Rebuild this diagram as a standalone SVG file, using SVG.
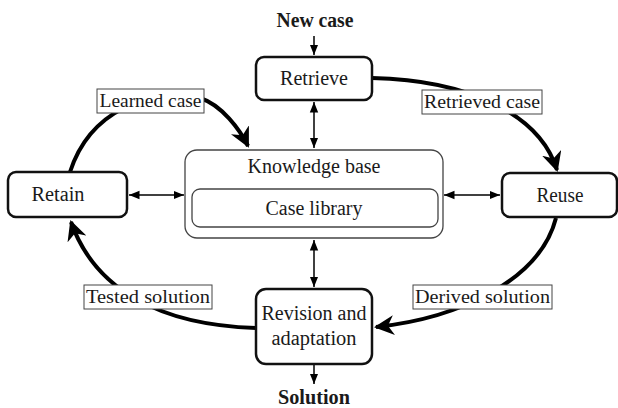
<svg xmlns="http://www.w3.org/2000/svg" width="618" height="408" viewBox="0 0 618 408">
<style>
text{font-family:"Liberation Serif","Times New Roman",serif;fill:#1a1a1a;text-anchor:middle}
.t{font-size:20px}
.b{font-size:20px;font-weight:bold}
.lbl{font-size:19px}
.node{fill:#fff;stroke:#111;stroke-width:2.5}
.kb{fill:#fff;stroke:#444;stroke-width:1.3}
.lb{fill:#fff;stroke:#444;stroke-width:1}
.arc{fill:none;stroke:#000;stroke-width:4}
.thin{fill:none;stroke:#000;stroke-width:1.5}
</style>
<defs>
<marker id="big" viewBox="0 0 10 10" refX="9" refY="5" markerWidth="5" markerHeight="5" orient="auto" markerUnits="strokeWidth">
<path d="M0,0 L10,5 L0,10 L3,5 Z" fill="#000"/>
</marker>
<marker id="sm" viewBox="0 0 10 10" refX="10" refY="5" markerWidth="7" markerHeight="7" orient="auto-start-reverse" markerUnits="strokeWidth">
<path d="M0,1 L10,5 L0,9 Z" fill="#000"/>
</marker>
</defs>
<g id="connectors">
<path class="arc" d="M372,78 C470,80 540,115 557,170" marker-end="url(#big)"/>
<path class="arc" d="M556,218 C540,280 460,318 376,327" marker-end="url(#big)"/>
<path class="arc" d="M256,328 C160,325 95,290 71,222" marker-end="url(#big)"/>
<path class="arc" d="M70,172 C90,110 150,88 200,98 C222,105 240,130 248,146" marker-end="url(#big)"/>
<path class="thin" d="M314,102 L314,148" marker-start="url(#sm)" marker-end="url(#sm)"/>
<path class="thin" d="M129,195 L184,195" marker-start="url(#sm)" marker-end="url(#sm)"/>
<path class="thin" d="M444,195 L500,195" marker-start="url(#sm)" marker-end="url(#sm)"/>
<path class="thin" d="M314,240 L314,287" marker-start="url(#sm)" marker-end="url(#sm)"/>
<path class="thin" d="M314,36 L314,55" marker-end="url(#sm)"/>
<path class="thin" d="M314,365 L314,384" marker-end="url(#sm)"/>
</g>
<g id="new-case"><text class="b" x="315" y="27" textLength="77" lengthAdjust="spacingAndGlyphs">New case</text></g>
<g id="solution"><text class="b" x="314" y="404" textLength="72" lengthAdjust="spacingAndGlyphs">Solution</text></g>
<g id="retrieve">
<rect class="node" x="256" y="57" width="116" height="43" rx="8"/>
<text class="t" x="314" y="85" textLength="68" lengthAdjust="spacingAndGlyphs">Retrieve</text>
</g>
<g id="retain">
<rect class="node" x="8" y="172" width="119" height="45" rx="8"/>
<text class="t" x="58" y="201" textLength="53" lengthAdjust="spacingAndGlyphs">Retain</text>
</g>
<g id="reuse">
<rect class="node" x="502" y="173" width="115" height="44" rx="8"/>
<text class="t" x="560" y="202" textLength="47" lengthAdjust="spacingAndGlyphs">Reuse</text>
</g>
<g id="revision">
<rect class="node" x="256" y="289" width="116" height="75" rx="10"/>
<text class="t" x="314" y="320" textLength="105" lengthAdjust="spacingAndGlyphs">Revision and</text>
<text class="t" x="314" y="345" textLength="85" lengthAdjust="spacingAndGlyphs">adaptation</text>
</g>
<g id="knowledge-base">
<rect class="kb" x="185" y="150" width="258" height="88" rx="12"/>
<text class="t" x="314" y="173" textLength="133" lengthAdjust="spacingAndGlyphs">Knowledge base</text>
<g id="case-library">
<rect class="kb" x="192" y="189" width="246" height="38" rx="8"/>
<text class="t" x="314" y="215" textLength="97" lengthAdjust="spacingAndGlyphs">Case library</text>
</g>
</g>
<g id="label-learned">
<rect class="lb" x="97" y="89" width="107" height="24"/>
<text class="lbl" x="150.5" y="107" textLength="102" lengthAdjust="spacingAndGlyphs">Learned case</text>
</g>
<g id="label-retrieved">
<rect class="lb" x="422" y="90" width="120" height="24"/>
<text class="lbl" x="482" y="108" textLength="116" lengthAdjust="spacingAndGlyphs">Retrieved case</text>
</g>
<g id="label-tested">
<rect class="lb" x="84" y="285" width="128" height="24"/>
<text class="lbl" x="148" y="303" textLength="124" lengthAdjust="spacingAndGlyphs">Tested solution</text>
</g>
<g id="label-derived">
<rect class="lb" x="413" y="285" width="139" height="24"/>
<text class="lbl" x="482.5" y="303" textLength="135" lengthAdjust="spacingAndGlyphs">Derived solution</text>
</g>
</svg>
